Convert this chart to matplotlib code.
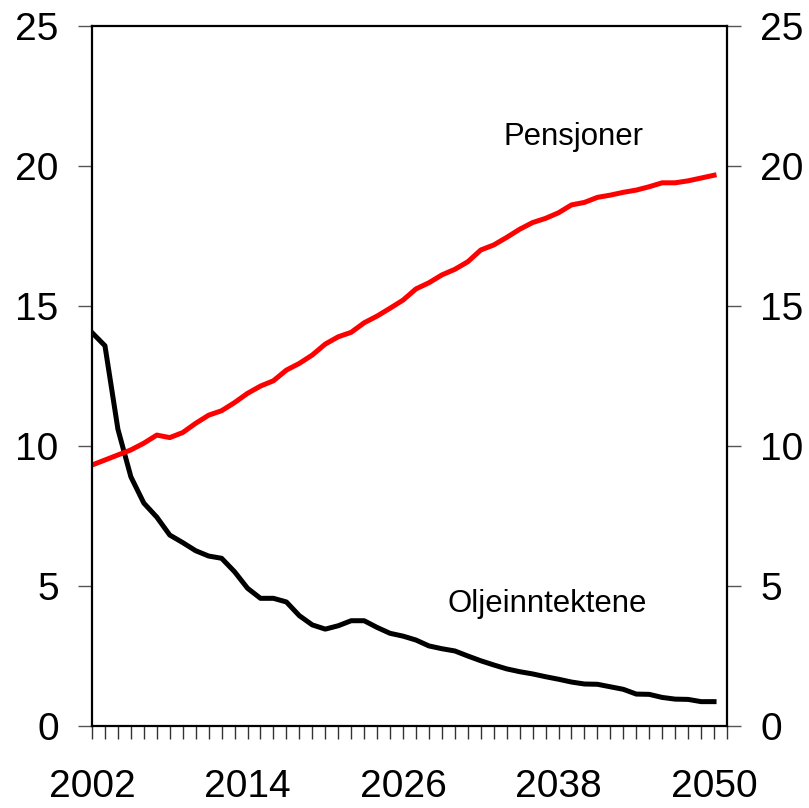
import matplotlib
matplotlib.use("Agg")
import matplotlib.pyplot as plt

plt.rcParams['font.family'] = ['Liberation Sans', 'DejaVu Sans']

years = list(range(2002, 2051))
olje = [14.05, 13.58, 10.6, 8.9, 7.96, 7.46, 6.82, 6.55, 6.26, 6.07,
        5.99, 5.51, 4.92, 4.56, 4.56, 4.43, 3.94, 3.61, 3.46, 3.58,
        3.76, 3.76, 3.52, 3.31, 3.21, 3.07, 2.86, 2.76, 2.68, 2.50,
        2.33, 2.18, 2.04, 1.94, 1.86, 1.76, 1.67, 1.57, 1.50, 1.49,
        1.40, 1.31, 1.14, 1.13, 1.02, 0.96, 0.95, 0.87, 0.87]
pensjoner = [9.32, 9.50, 9.68, 9.86, 10.10, 10.39, 10.30, 10.48, 10.81, 11.10,
             11.26, 11.55, 11.88, 12.14, 12.33, 12.71, 12.95, 13.25, 13.64, 13.90,
             14.06, 14.40, 14.64, 14.92, 15.21, 15.61, 15.83, 16.11, 16.31, 16.58,
             17.00, 17.18, 17.45, 17.74, 17.98, 18.13, 18.33, 18.61, 18.70, 18.88,
             18.96, 19.06, 19.14, 19.26, 19.40, 19.40, 19.47, 19.57, 19.67]
xlabels = [2002, 2014, 2026, 2038, 2050]
yticks = [0, 5, 10, 15, 20, 25]

fig = plt.figure(figsize=(8.09, 8.08), dpi=100)
ax = fig.add_axes([92/809, 1-726/808, (727-92)/809, (726-26)/808])

ax.plot(years, olje, color='black', lw=3.6, solid_joinstyle='round')
ax.plot(years, pensjoner, color='#ff0000', lw=3.6, solid_joinstyle='round')

ax.set_xlim(2002, 2051)
ax.set_ylim(0, 25)

for s in ax.spines.values():
    s.set_linewidth(1.6)
    s.set_color('black')

ax.set_xticks(list(range(2002, 2052)))
ax.set_xticklabels([str(y) if y in xlabels else '' for y in range(2002, 2052)])
ax.tick_params(axis='x', direction='out', length=9, width=1, color='#333333',
               labelsize=28, pad=22)

ax.set_yticks(yticks)
ax.tick_params(axis='y', direction='out', length=10, width=1, color='#555555',
               labelsize=28, pad=14, right=True, labelright=True)

fig.text(574/809, 1-137/808, 'Pensjoner', fontsize=22.4, ha='center', va='center')
fig.text(547/809, 1-604/808, 'Oljeinntektene', fontsize=22.4, ha='center', va='center')

fig.savefig('out.png', dpi=100)
